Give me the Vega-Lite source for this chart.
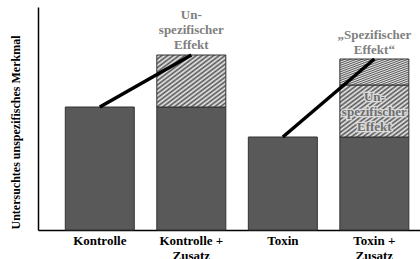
{
  "$schema": "https://vega.github.io/schema/vega-lite/v6.json",
  "autosize": "none",
  "width": 382,
  "height": 223,
  "padding": {"left": 38, "top": 7, "right": 0, "bottom": 29},
  "background": "white",
  "config": {"view": {"stroke": null}, "font": "Liberation Serif"},
  "datasets": {
    "bars": [
      {"cat": "Kontrolle", "segment": "Basis", "lo": 0, "hi": 123},
      {"cat": "Kontrolle + Zusatz", "segment": "Basis", "lo": 0, "hi": 123},
      {"cat": "Kontrolle + Zusatz", "segment": "Unspezifisch", "lo": 123, "hi": 175},
      {"cat": "Toxin", "segment": "Basis", "lo": 0, "hi": 93},
      {"cat": "Toxin + Zusatz", "segment": "Basis", "lo": 0, "hi": 93},
      {"cat": "Toxin + Zusatz", "segment": "Unspezifisch", "lo": 93, "hi": 145},
      {"cat": "Toxin + Zusatz", "segment": "Spezifisch", "lo": 145, "hi": 171}
    ],
    "lines": [
      {"cat": "Kontrolle", "val": 123, "group": "Kontrolle"},
      {"cat": "Kontrolle + Zusatz", "val": 175, "group": "Kontrolle"},
      {"cat": "Toxin", "val": 93, "group": "Toxin"},
      {"cat": "Toxin + Zusatz", "val": 171, "group": "Toxin"}
    ],
    "labels": [
      {"cat": "Kontrolle + Zusatz", "val": 215, "label": ["Un-", "spezifischer", "Effekt"], "kind": "outer"},
      {"cat": "Toxin + Zusatz", "val": 195, "label": ["„Spezifischer", "Effekt“"], "kind": "outer"},
      {"cat": "Toxin + Zusatz", "val": 133, "label": ["Un-", "spezifischer", "Effekt"], "kind": "inner"}
    ]
  },
  "encoding": {
    "x": {
      "field": "cat",
      "type": "nominal",
      "sort": ["Kontrolle", "Kontrolle + Zusatz", "Toxin", "Toxin + Zusatz"],
      "scale": {"paddingInner": 0.246, "paddingOuter": 0.21, "align": 0.71},
      "axis": {
        "title": null,
        "labelAngle": 0,
        "labelFont": "Liberation Serif",
        "labelFontWeight": "bold",
        "labelFontSize": 13,
        "labelColor": "black",
        "labelLineHeight": 15,
        "labelPadding": 4,
        "ticks": false,
        "domainColor": "black",
        "domainWidth": 1.5,
        "labelExpr": "indexof(datum.label, 'Zusatz') > 0 ? [replace(datum.label, ' Zusatz', ''), 'Zusatz'] : datum.label"
      }
    }
  },
  "layer": [
    {
      "data": {"name": "bars"},
      "transform": [{"filter": "datum.segment === 'Basis'"}],
      "mark": {"type": "bar", "fill": "#595959", "stroke": "#333333", "strokeWidth": 1},
      "encoding": {
        "y": {
          "field": "lo",
          "type": "quantitative",
          "scale": {"domain": [0, 223], "nice": false, "zero": true},
          "axis": {
            "title": "Untersuchtes unspezifisches Merkmal",
            "titleFont": "Liberation Serif",
            "titleFontWeight": "bold",
            "titleFontSize": 12,
            "titleColor": "black",
            "titleAngle": -90,
            "titleAlign": "center",
            "titleBaseline": "middle",
            "titleX": -23,
            "titleY": 125,
            "labels": false,
            "ticks": false,
            "grid": false,
            "domainColor": "black",
            "domainWidth": 1.5
          }
        },
        "y2": {"field": "hi"}
      }
    },
    {
      "data": {"name": "bars"},
      "transform": [{"filter": "datum.segment !== 'Basis'"}],
      "mark": {
        "type": "bar",
        "stroke": "#333333",
        "strokeWidth": 1,
        "fill": {
          "gradient": "linear",
          "x1": 0, "y1": 0, "x2": 1, "y2": 1,
          "stops": [
            {"offset": 0.0, "color": "#555555"}, {"offset": 0.020833, "color": "#eeeeee"},
            {"offset": 0.041667, "color": "#555555"}, {"offset": 0.0625, "color": "#eeeeee"},
            {"offset": 0.083333, "color": "#555555"}, {"offset": 0.104167, "color": "#eeeeee"},
            {"offset": 0.125, "color": "#555555"}, {"offset": 0.145833, "color": "#eeeeee"},
            {"offset": 0.166667, "color": "#555555"}, {"offset": 0.1875, "color": "#eeeeee"},
            {"offset": 0.208333, "color": "#555555"}, {"offset": 0.229167, "color": "#eeeeee"},
            {"offset": 0.25, "color": "#555555"}, {"offset": 0.270833, "color": "#eeeeee"},
            {"offset": 0.291667, "color": "#555555"}, {"offset": 0.3125, "color": "#eeeeee"},
            {"offset": 0.333333, "color": "#555555"}, {"offset": 0.354167, "color": "#eeeeee"},
            {"offset": 0.375, "color": "#555555"}, {"offset": 0.395833, "color": "#eeeeee"},
            {"offset": 0.416667, "color": "#555555"}, {"offset": 0.4375, "color": "#eeeeee"},
            {"offset": 0.458333, "color": "#555555"}, {"offset": 0.479167, "color": "#eeeeee"},
            {"offset": 0.5, "color": "#555555"}, {"offset": 0.520833, "color": "#eeeeee"},
            {"offset": 0.541667, "color": "#555555"}, {"offset": 0.5625, "color": "#eeeeee"},
            {"offset": 0.583333, "color": "#555555"}, {"offset": 0.604167, "color": "#eeeeee"},
            {"offset": 0.625, "color": "#555555"}, {"offset": 0.645833, "color": "#eeeeee"},
            {"offset": 0.666667, "color": "#555555"}, {"offset": 0.6875, "color": "#eeeeee"},
            {"offset": 0.708333, "color": "#555555"}, {"offset": 0.729167, "color": "#eeeeee"},
            {"offset": 0.75, "color": "#555555"}, {"offset": 0.770833, "color": "#eeeeee"},
            {"offset": 0.791667, "color": "#555555"}, {"offset": 0.8125, "color": "#eeeeee"},
            {"offset": 0.833333, "color": "#555555"}, {"offset": 0.854167, "color": "#eeeeee"},
            {"offset": 0.875, "color": "#555555"}, {"offset": 0.895833, "color": "#eeeeee"},
            {"offset": 0.916667, "color": "#555555"}, {"offset": 0.9375, "color": "#eeeeee"},
            {"offset": 0.958333, "color": "#555555"}, {"offset": 0.979167, "color": "#eeeeee"},
            {"offset": 1.0, "color": "#555555"}
          ]
        }
      },
      "encoding": {
        "y": {"field": "lo", "type": "quantitative"},
        "y2": {"field": "hi"}
      }
    },
    {
      "data": {"name": "lines"},
      "mark": {"type": "line", "color": "black", "strokeWidth": 3.5},
      "encoding": {
        "y": {"field": "val", "type": "quantitative"},
        "detail": {"field": "group"}
      }
    },
    {
      "data": {"name": "labels"},
      "transform": [{"filter": "datum.kind === 'inner'"}],
      "mark": {
        "type": "text",
        "font": "Liberation Serif",
        "fontWeight": "bold",
        "fontSize": 13,
        "lineHeight": 15,
        "align": "center",
        "baseline": "middle",
        "stroke": "#dcdcdc",
        "strokeWidth": 2.5,
        "fill": "#dcdcdc"
      },
      "encoding": {
        "y": {"field": "val", "type": "quantitative"},
        "text": {"field": "label"}
      }
    },
    {
      "data": {"name": "labels"},
      "mark": {
        "type": "text",
        "font": "Liberation Serif",
        "fontWeight": "bold",
        "fontSize": 13,
        "lineHeight": 15,
        "align": "center",
        "baseline": "middle"
      },
      "encoding": {
        "y": {"field": "val", "type": "quantitative"},
        "text": {"field": "label"},
        "color": {
          "field": "kind",
          "type": "nominal",
          "scale": {"domain": ["outer", "inner"], "range": ["#7f7f7f", "#6e6e6e"]},
          "legend": null
        }
      }
    }
  ]
}
